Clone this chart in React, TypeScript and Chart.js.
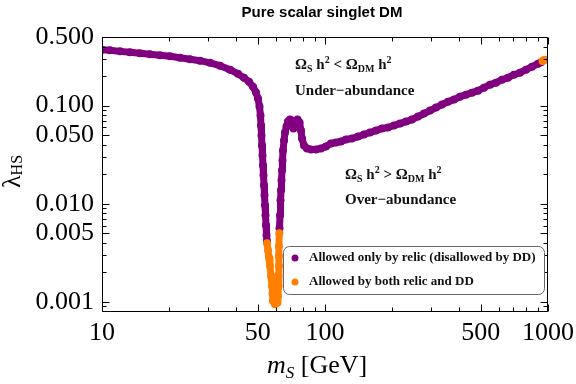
import { useEffect, useRef } from "react";
import { Chart, registerables } from "chart.js";

Chart.register(...registerables);

// ---- data (m_S in GeV, lambda_HS) ----
const relicLowMass = [10.0, 10.86, 12.04, 13.35, 14.8, 16.41, 18.2, 20.18, 22.38, 24.81, 27.51, 30.5, 33.82, 37.5, 40.73, 43.33, 45.63, 47.55, 49.05, 50.07, 50.86, 51.38, 51.65, 51.91, 52.18, 52.45, 52.72, 52.99, 53.27, 53.54, 53.82, 54.1, 54.38, 54.66, 54.95];
const relicLowLambda = [0.37, 0.366, 0.357, 0.349, 0.341, 0.333, 0.326, 0.318, 0.307, 0.297, 0.287, 0.273, 0.255, 0.232, 0.211, 0.192, 0.175, 0.156, 0.136, 0.118, 0.0977, 0.0792, 0.0627, 0.0496, 0.0393, 0.0311, 0.0246, 0.0195, 0.0154, 0.0122, 0.00966, 0.00764, 0.00605, 0.00479, 0.00416];

const relicHighMass = [62.52, 62.85, 63.17, 63.5, 63.83, 64.16, 64.49, 64.82, 65.5, 66.17, 67.2, 68.25, 69.66, 70.7, 72.2, 73.75, 75.3, 76.9, 78.06, 78.87, 80.52, 83.05, 86.54, 91.12, 95.94, 101.0, 106.4, 112.0, 117.9, 124.2, 132.1, 140.6, 149.6, 159.1, 169.3, 180.1, 191.6, 203.9, 216.9, 230.8, 245.5, 261.2, 277.9, 295.8, 314.7, 334.8, 356.2, 379.0, 403.2, 429.0, 456.4, 485.6, 516.4, 549.5, 584.6, 621.9, 661.6, 703.9, 748.9, 796.7, 847.8, 902.0, 930.2];
const relicHighLambda = [0.00564, 0.00764, 0.01085, 0.01372, 0.01733, 0.0219, 0.02764, 0.0349, 0.0441, 0.0532, 0.0612, 0.0688, 0.0721, 0.0704, 0.0584, 0.0688, 0.0721, 0.0672, 0.0557, 0.0462, 0.0393, 0.0366, 0.0358, 0.0358, 0.0366, 0.0384, 0.0411, 0.0421, 0.0431, 0.0452, 0.0462, 0.0484, 0.0508, 0.0532, 0.0557, 0.0584, 0.0598, 0.0627, 0.0656, 0.0688, 0.0721, 0.0773, 0.083, 0.089, 0.0954, 0.1024, 0.1098, 0.1151, 0.1234, 0.1293, 0.1355, 0.142, 0.1522, 0.1634, 0.1712, 0.1837, 0.1924, 0.2064, 0.2163, 0.232, 0.2489, 0.267, 0.2765];

const bothDipMass = [54.95, 55.52, 56.1, 56.67, 57.26, 57.85, 58.16, 58.45, 59.67, 60.92, 61.53, 61.85, 61.85, 62.17, 62.17, 62.17, 62.4];
const bothDipLambda = [0.00397, 0.00337, 0.0028, 0.00232, 0.00184, 0.00145, 0.00121, 0.00102, 0.00095, 0.00098, 0.00115, 0.00145, 0.00184, 0.00232, 0.00293, 0.0037, 0.005];

const bothEndMass = [945, 958, 970];
const bothEndLambda = [0.284, 0.289, 0.293];

const xTickValues = [10, 50, 100, 500, 1000];
const yTickValues = [0.001, 0.005, 0.01, 0.05, 0.1, 0.5];
const legendLabels = ["Allowed only by relic (disallowed by DD)", "Allowed by both relic and DD"];
const titleText = "Pure scalar singlet DM";

const PURPLE = "#800080";
const ORANGE = "#FF8000";
const SERIF = "'Liberation Serif', 'Times New Roman', serif";

const toPoints = (xs: number[], ys: number[]) => xs.map((x, i) => ({ x, y: ys[i] }));

type Part = [string, string, number];
function drawRich(ctx: CanvasRenderingContext2D, x: number, y: number, parts: Part[]) {
  let cx = x;
  for (const [text, font, dy] of parts) {
    ctx.font = font;
    ctx.fillText(text, cx, y + dy);
    cx += ctx.measureText(text).width;
  }
}

const decorPlugin = {
  id: "decor",
  afterDatasetsDraw(chart: any) {
    const { ctx, chartArea: ca, scales } = chart;
    const xs = scales.x;
    const ys = scales.y;
    const L = Math.round(ca.left) + 0.5;
    const R = Math.round(ca.right) - 0.5;
    const T = Math.round(ca.top) + 0.5;
    const B = Math.round(ca.bottom) - 0.5;
    ctx.save();
    ctx.strokeStyle = "#000";
    ctx.lineWidth = 1;
    ctx.beginPath();
    ctx.rect(L, T, R - L, B - T);
    ctx.stroke();

    // tick marks (inward, all four sides)
    const xTicks: number[] = [];
    for (const d of [10, 100]) for (let k = 1; k <= 9; k++) xTicks.push(k * d);
    xTicks.push(1000);
    ctx.beginPath();
    for (const v of xTicks) {
      const len = xTickValues.includes(v) ? 7 : 4;
      const p = Math.round(xs.getPixelForValue(v)) + 0.5;
      ctx.moveTo(p, B);
      ctx.lineTo(p, B - len);
      ctx.moveTo(p, T);
      ctx.lineTo(p, T + len);
    }
    const yTicks: number[] = [0.0008, 0.0009];
    for (const d of [0.001, 0.01, 0.1]) for (let k = 1; k <= 9; k++) if (k * d <= 0.5 + 1e-9) yTicks.push(k * d);
    for (const v of yTicks) {
      const major = yTickValues.some((t) => Math.abs(t - v) / t < 1e-6);
      const len = major ? 7 : 4;
      const p = Math.round(ys.getPixelForValue(v)) + 0.5;
      ctx.moveTo(L, p);
      ctx.lineTo(L + len, p);
      ctx.moveTo(R, p);
      ctx.lineTo(R - len, p);
    }
    ctx.stroke();

    // region annotations
    ctx.fillStyle = "#111";
    ctx.textBaseline = "alphabetic";
    ctx.textAlign = "left";
    const big = `bold 15px ${SERIF}`;
    const sm = `bold 10px ${SERIF}`;
    drawRich(ctx, 295, 69, [
      ["Ω", big, 0], ["S", sm, 3], [" h", big, 0], ["2", sm, -6], [" < ", big, 0],
      ["Ω", big, 0], ["DM", sm, 3], [" h", big, 0], ["2", sm, -6],
    ]);
    drawRich(ctx, 295, 95, [["Under−abundance", big, 0]]);
    drawRich(ctx, 345, 179, [
      ["Ω", big, 0], ["S", sm, 3], [" h", big, 0], ["2", sm, -6], [" > ", big, 0],
      ["Ω", big, 0], ["DM", sm, 3], [" h", big, 0], ["2", sm, -6],
    ]);
    drawRich(ctx, 345, 204, [["Over−abundance", big, 0]]);

    // legend box
    const lx = 283.5, ly = 246.5, lw = 261, lh = 48, r = 6;
    ctx.beginPath();
    ctx.moveTo(lx + r, ly);
    ctx.lineTo(lx + lw - r, ly);
    ctx.arcTo(lx + lw, ly, lx + lw, ly + r, r);
    ctx.lineTo(lx + lw, ly + lh - r);
    ctx.arcTo(lx + lw, ly + lh, lx + lw - r, ly + lh, r);
    ctx.lineTo(lx + r, ly + lh);
    ctx.arcTo(lx, ly + lh, lx, ly + lh - r, r);
    ctx.lineTo(lx, ly + r);
    ctx.arcTo(lx, ly, lx + r, ly, r);
    ctx.closePath();
    ctx.fillStyle = "#fff";
    ctx.fill();
    ctx.strokeStyle = "#666";
    ctx.stroke();
    const colors = [PURPLE, ORANGE];
    const rows = [258, 282];
    legendLabels.forEach((label, i) => {
      ctx.fillStyle = colors[i];
      ctx.beginPath();
      ctx.arc(295, rows[i], 3.5, 0, Math.PI * 2);
      ctx.fill();
      ctx.fillStyle = "#111";
      ctx.font = `bold 13px ${SERIF}`;
      ctx.textBaseline = "middle";
      ctx.fillText(label, 309, rows[i]);
    });
    ctx.restore();
  },
  afterDraw(chart: any) {
    const { ctx } = chart;
    ctx.save();
    ctx.fillStyle = "#000";
    // title
    ctx.font = "bold 15px 'Liberation Sans', Arial, sans-serif";
    ctx.textAlign = "center";
    ctx.textBaseline = "alphabetic";
    ctx.fillText(titleText, 322, 17);
    // x axis title
    ctx.textAlign = "left";
    drawRich(ctx, 267, 373, [
      ["m", `italic 26px ${SERIF}`, 0],
      ["S", `italic 17px ${SERIF}`, 5],
      [" [GeV]", `26px ${SERIF}`, 0],
    ]);
    // y axis title (rotated)
    ctx.translate(20, 188);
    ctx.rotate(-Math.PI / 2);
    drawRich(ctx, 0, 0, [
      ["λ", `26px ${SERIF}`, 0],
      ["HS", `16px ${SERIF}`, 2],
    ]);
    ctx.restore();
  },
};

export default function App() {
  const ref = useRef<HTMLCanvasElement | null>(null);
  useEffect(() => {
    const canvas = ref.current;
    if (!canvas) return;
    const common = { showLine: true, borderWidth: 7, pointRadius: 4, pointHoverRadius: 4, pointBorderWidth: 0, borderCapStyle: "round", borderJoinStyle: "round", clip: 0 } as any;
    const chart = new Chart(canvas, {
      type: "scatter",
      data: {
        datasets: [
          { ...common, label: legendLabels[1], data: toPoints(bothDipMass, bothDipLambda), borderColor: ORANGE, backgroundColor: ORANGE, order: 0 },
          { ...common, label: legendLabels[1], data: toPoints(bothEndMass, bothEndLambda), borderColor: ORANGE, backgroundColor: ORANGE, order: 0 },
          { ...common, label: legendLabels[0], data: toPoints(relicLowMass, relicLowLambda), borderColor: PURPLE, backgroundColor: PURPLE, order: 1 },
          { ...common, label: legendLabels[0], data: toPoints(relicHighMass, relicHighLambda), borderColor: PURPLE, backgroundColor: PURPLE, order: 1 },
        ],
      },
      options: {
        animation: false,
        responsive: false,
        devicePixelRatio: 1,
        layout: { padding: { top: 37, right: 28, left: 0, bottom: 0 } },
        plugins: { legend: { display: false }, title: { display: false }, tooltip: { enabled: false } },
        scales: {
          x: {
            type: "logarithmic",
            min: 10,
            max: 1000,
            afterBuildTicks: (s: any) => {
              s.ticks = xTickValues.map((v) => ({ value: v }));
            },
            afterFit: (s: any) => {
              s.height = 72;
              s.paddingLeft = 0;
              s.paddingRight = 0;
            },
            ticks: {
              callback: (v: any) => String(v),
              font: { family: SERIF, size: 26 },
              color: "#000",
              padding: 6,
              maxRotation: 0,
              autoSkip: false,
            },
            grid: { display: false, drawTicks: false },
            border: { display: false },
          },
          y: {
            type: "logarithmic",
            min: 0.00079,
            max: 0.5,
            afterBuildTicks: (s: any) => {
              s.ticks = yTickValues.map((v) => ({ value: v }));
            },
            afterFit: (s: any) => {
              s.width = 102;
              s.paddingTop = 0;
              s.paddingBottom = 0;
            },
            ticks: {
              callback: (v: any) => Number(v).toFixed(3),
              font: { family: SERIF, size: 26 },
              color: "#000",
              padding: 8,
              autoSkip: false,
            },
            grid: { display: false, drawTicks: false },
            border: { display: false },
          },
        },
      } as any,
      plugins: [decorPlugin],
    });
    return () => chart.destroy();
  }, []);
  return (
    <div style={{ position: "absolute", left: 0, top: 0, width: 576, height: 384, background: "#fff" }}>
      <canvas ref={ref} width={576} height={384} style={{ display: "block", width: 576, height: 384 }} />
    </div>
  );
}
